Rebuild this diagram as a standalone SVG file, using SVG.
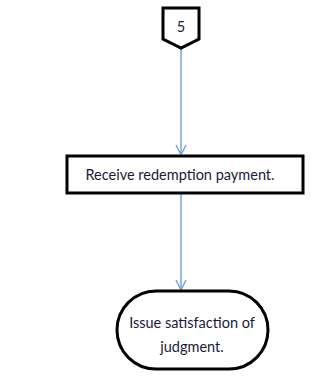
<svg xmlns="http://www.w3.org/2000/svg" width="328" height="385" viewBox="0 0 328 385">
<defs>
<style>
.shape{fill:#fff;stroke:#000;stroke-width:3}
.lbl{font-family:Lato,"Open Sans","Liberation Sans",sans-serif;font-size:14.5px;fill:#1a1a3a;text-anchor:middle}
.conn{stroke:#7aa3d8;stroke-width:1.5;fill:none}
</style>
<marker id="arr" viewBox="0 0 12 12" refX="11" refY="6" markerWidth="12" markerHeight="12" markerUnits="userSpaceOnUse" orient="auto">
<path d="M1,1 L11,6 L1,11" fill="none" stroke="#7aa3d8" stroke-width="1.5"/>
</marker>
</defs>
<rect width="328" height="385" fill="#fff"/>
<g id="connectors">
<line class="conn" x1="181" y1="48" x2="181" y2="155" marker-end="url(#arr)"/>
<line class="conn" x1="181" y1="194" x2="181" y2="290" marker-end="url(#arr)"/>
</g>
<g id="node-5">
<path class="shape" d="M163,8 H199 V39 L181,48 L163,39 Z"/>
<text class="lbl" x="181" y="32">5</text>
</g>
<g id="node-receive">
<rect class="shape" x="67" y="156" width="236" height="37"/>
<text class="lbl" x="180" y="180">Receive redemption payment.</text>
</g>
<g id="node-issue">
<rect class="shape" x="117" y="291" width="151" height="78" rx="39" ry="39"/>
<text class="lbl" x="192" y="328">Issue satisfaction of</text>
<text class="lbl" x="192" y="352">judgment.</text>
</g>
</svg>
